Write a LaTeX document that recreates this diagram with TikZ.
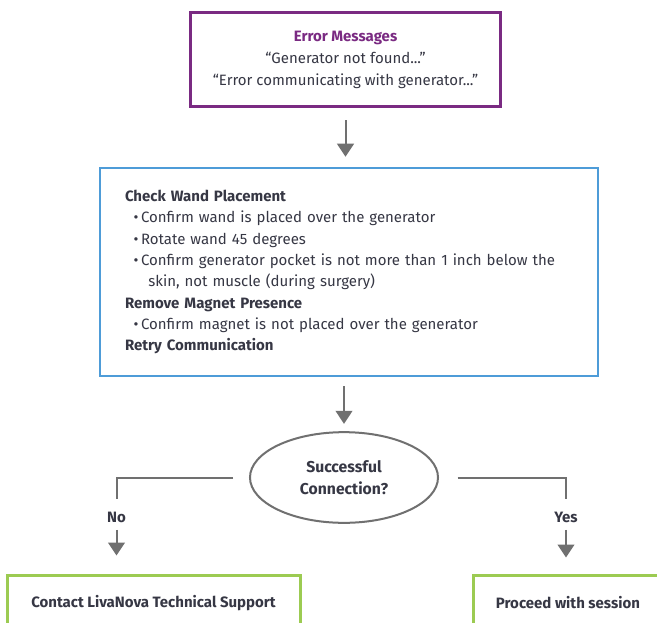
\documentclass[tikz,border=0pt]{standalone}
\usepackage{fontspec}
\setmainfont{Fira Sans}
\usetikzlibrary{arrows.meta,shapes.geometric}
\definecolor{txt}{HTML}{363744}
\definecolor{purp}{HTML}{7A2A82}
\definecolor{bluec}{HTML}{4E9CD8}
\definecolor{greenc}{HTML}{9CCB52}
\definecolor{grayc}{HTML}{707070}
\tikzset{
  basetext/.style={text=txt,font=\fontsize{11.25}{16}\selectfont},
  errbox/.style={draw=purp,line width=2.25pt,minimum width=233pt,minimum height=70.5pt,align=center,text=txt,font=\fontsize{11.25}{16.5}\selectfont},
  wandbox/.style={draw=bluec,line width=1.9pt,minimum height=156pt,text width=336pt,inner xsep=18.75pt,align=left,basetext},
  decis/.style={ellipse,draw=grayc,line width=1.5pt,minimum width=141pt,minimum height=68pt,align=center,inner sep=0pt,text=txt,font=\fontsize{11.8}{16.5}\selectfont\bfseries},
  endbox/.style={draw=greenc,line width=2.25pt,minimum height=42pt,text=txt,font=\fontsize{11.25}{16}\selectfont\bfseries},
  lab/.style={inner sep=0pt,text=txt,font=\fontsize{11.25}{16}\selectfont\bfseries},
  conn/.style={draw=grayc,line width=1.5pt},
  arr/.style={draw=grayc,line width=1.5pt,-{Triangle[length=9.75pt,width=12.5pt]}}
}
\begin{document}
\begin{tikzpicture}[x=0.75pt,y=-0.75pt]
\path[use as bounding box,clip] (0,0) rectangle (657,622);
\fill[white] (0,0) rectangle (657,622);
\node[errbox] (err) at (345.5,59.5) {{\bfseries\color{purp}Error Messages}\\“Generator not found...”\\“Error communicating with generator...”};
\node[wandbox] (wand) at (349,272) {{\bfseries Check Wand Placement}\\
\hspace*{6.5pt}•\,Confirm wand is placed over the generator\\
\hspace*{6.5pt}•\,Rotate wand 45 degrees\\
\hspace*{6.5pt}•\,Confirm generator pocket is not more than 1 inch below the\\
\hspace*{17.5pt}skin, not muscle (during surgery)\\
{\bfseries Remove Magnet Presence}\\
\hspace*{6.5pt}•\,Confirm magnet is not placed over the generator\\
{\bfseries Retry Communication}};
\node[decis] (dec) at (344,477.5) {Successful\\Connection?};
\node[lab] (no) at (116.5,517) {No};
\node[lab] (yes) at (566,517) {Yes};
\node[endbox,minimum width=219.75pt] (contact) at (153.5,603) {Contact LivaNova Technical Support};
\node[endbox,minimum width=142pt] (proceed) at (568,603) {Proceed with session};
\draw[arr,shorten <=9pt,shorten >=7.5pt] (err.south) -- (err.south |- wand.north);
\draw[arr,shorten <=6.75pt,shorten >=5.5pt] (dec.north |- wand.south) -- (dec.north);
\draw[conn] ([xshift=-12pt]dec.west) -| ([yshift=9pt]no.north);
\draw[conn] ([xshift=14pt]dec.east) -| ([yshift=9pt]yes.north);
\draw[arr,shorten <=5.5pt,shorten >=13.5pt] (no.south) -- (no.south |- contact.north);
\draw[arr,shorten <=5.5pt,shorten >=12pt] (yes.south) -- (yes.south |- proceed.north);
\end{tikzpicture}
\end{document}
